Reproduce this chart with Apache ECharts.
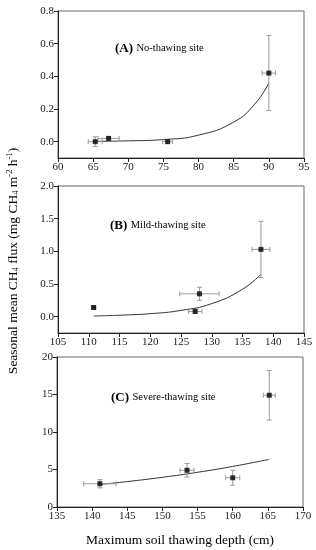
<!DOCTYPE html>
<html><head><meta charset="utf-8">
<script src="https://cdn.jsdelivr.net/npm/echarts@6/dist/echarts.min.js"></script>
<style>html,body{margin:0;padding:0;background:#fff}#c{width:316px;height:550px}</style>
</head><body><div id="c"></div>
<script>
// Panel A: No-thawing site
var depthA = [65.3, 67.2, 75.6, 90.0];
var fluxA = [0.00, 0.02, 0.00, 0.42];
var depthErrA = [1.0, 1.5, 0.7, 0.95];
var fluxErrA = [0.03, 0.01, 0.01, 0.23];
var fitXA = [65, 70, 75, 80, 85, 88, 90];
var fitYA = [0.002, 0.005, 0.013, 0.04, 0.12, 0.23, 0.36];
// Panel B: Mild-thawing site
var depthB = [110.8, 127.3, 128.0, 138.0];
var fluxB = [0.14, 0.08, 0.35, 1.03];
var depthErrB = [0.3, 1.1, 3.2, 1.45];
var fluxErrB = [0.02, 0.03, 0.10, 0.43];
var fitXB = [110.8, 115, 120, 125, 130, 135, 138];
var fitYB = [0.01, 0.022, 0.046, 0.096, 0.2, 0.42, 0.65];
// Panel C: Severe-thawing site
var depthC = [141.1, 153.5, 160.0, 165.2];
var fluxC = [3.1, 4.9, 3.9, 14.9];
var depthErrC = [2.3, 1.0, 1.0, 0.85];
var fluxErrC = [0.55, 0.9, 1.0, 3.3];
var fitXC = [141, 145, 150, 155, 160, 165.2];
var fitYC = [3.0, 3.39, 3.96, 4.63, 5.41, 6.35];

var yTicksA = [0, 0.2, 0.4, 0.6, 0.8];
var yTicksB = [0, 0.5, 1.0, 1.5, 2.0];

var FONT = '"Liberation Serif", "DejaVu Serif", serif';

function pairs(xs, ys){ return xs.map(function(x,i){return [x, ys[i]];}); }
function errData(xs, ys, xe, ye){ return xs.map(function(x,i){return [x, ys[i], xe[i], ye[i]];}); }

function errRender(params, api){
  var x = api.value(0), y = api.value(1), xe = api.value(2), ye = api.value(3);
  var top = api.coord([x, y+ye]), bot = api.coord([x, y-ye]);
  var l = api.coord([x-xe, y]), r = api.coord([x+xe, y]);
  var cap = 2.5;
  var st = {stroke:'#9a9a9a', lineWidth:1};
  var segs = [
    [top[0], top[1], bot[0], bot[1]],
    [top[0]-cap, top[1], top[0]+cap, top[1]],
    [bot[0]-cap, bot[1], bot[0]+cap, bot[1]],
    [l[0], l[1], r[0], r[1]],
    [l[0], l[1]-cap, l[0], l[1]+cap],
    [r[0], r[1]-cap, r[0], r[1]+cap]
  ];
  return {type:'group', children: segs.map(function(s){
    return {type:'line', shape:{x1:s[0],y1:s[1],x2:s[2],y2:s[3]}, style:st};
  })};
}

function xAx(idx, min, max){
  return {type:'value', gridIndex:idx, min:min, max:max, interval:5,
    axisLine:{onZero:false, lineStyle:{color:'#222'}},
    axisTick:{show:true, inside:false, length:4, lineStyle:{color:'#222'}},
    axisLabel:{fontFamily:FONT, fontSize:11, color:'#222', margin:4},
    splitLine:{show:false}};
}
function yAx(idx, min, max, ticks, fmt){
  var a = {type:'value', gridIndex:idx, min:min, max:max,
    axisLine:{onZero:false, lineStyle:{color:'#222'}},
    axisTick:{show:true, inside:false, length:4, lineStyle:{color:'#222'}},
    axisLabel:{fontFamily:FONT, fontSize:11, color:'#222', margin:4,
      formatter:function(v){return fmt(v);}},
    splitLine:{show:false}};
  if (ticks) { a.axisLabel.customValues = ticks; a.axisTick.customValues = ticks; }
  else { a.interval = 5; }
  return a;
}

var grids = [
  {left:58, top:11, width:246, height:147},
  {left:58, top:186, width:246, height:147},
  {left:57, top:357, width:246, height:150}
];
grids.forEach(function(g){ g.show=true; g.borderColor='#666'; g.borderWidth=1; g.backgroundColor='transparent'; });

function panelSeries(idx, dx, dy, xe, ye, fx, fy){
  return [
    {type:'line', xAxisIndex:idx, yAxisIndex:idx, data:pairs(fx, fy), smooth:true, showSymbol:false,
      lineStyle:{color:'#333', width:1}, silent:true, z:2},
    {type:'custom', xAxisIndex:idx, yAxisIndex:idx, data:errData(dx, dy, xe, ye), renderItem:errRender, z:3},
    {type:'scatter', xAxisIndex:idx, yAxisIndex:idx, data:pairs(dx, dy), symbol:'rect', symbolSize:5,
      itemStyle:{color:'#000'}, z:4}
  ];
}

var labelRich = {
  b:{fontFamily:FONT, fontSize:13, fontWeight:'bold', color:'#000'},
  n:{fontFamily:FONT, fontSize:10.5, color:'#000'}
};

var option = {
  animation:false,
  backgroundColor:'#fff',
  grid: grids,
  xAxis:[xAx(0,60,95), xAx(1,105,145), xAx(2,135,170)],
  yAxis:[
    yAx(0,-0.1,0.8,yTicksA,function(v){return v.toFixed(1);}),
    yAx(1,-0.25,2.0,yTicksB,function(v){return v.toFixed(1);}),
    yAx(2,0,20,null,function(v){return String(v);})
  ],
  series: [].concat(
    panelSeries(0, depthA, fluxA, depthErrA, fluxErrA, fitXA, fitYA),
    panelSeries(1, depthB, fluxB, depthErrB, fluxErrB, fitXB, fitYB),
    panelSeries(2, depthC, fluxC, depthErrC, fluxErrC, fitXC, fitYC)
  ),
  graphic:[
    {type:'text', left:115, top:42, style:{text:'{b|(A)} {n|No-thawing site}', rich:labelRich}},
    {type:'text', left:110, top:219, style:{text:'{b|(B)} {n|Mild-thawing site}', rich:labelRich}},
    {type:'text', left:111, top:391, style:{text:'{b|(C)} {n|Severe-thawing site}', rich:labelRich}},
    {type:'text', x:180, y:540, style:{text:'Maximum soil thawing depth (cm)', fontFamily:FONT, fontSize:13.5, fill:'#000', align:'center', verticalAlign:'middle'}},
    {type:'text', x:13, y:261, rotation:Math.PI/2,
      style:{text:'{t|Seasonal mean CH}{s|4}{t| flux (mg CH}{s|4}{t| m}{p|-2}{t| h}{p|-1}{t|)}',
        align:'center', verticalAlign:'middle',
        rich:{
          t:{fontFamily:FONT, fontSize:13.5, color:'#000'},
          s:{fontFamily:FONT, fontSize:8.5, color:'#000', verticalAlign:'bottom', padding:[6,0,0,0]},
          p:{fontFamily:FONT, fontSize:8.5, color:'#000', verticalAlign:'top', padding:[0,0,6,0]}
        }}}
  ]
};
var chart = echarts.init(document.getElementById('c'), null, {renderer:'canvas'});
chart.setOption(option);
</script></body></html>
